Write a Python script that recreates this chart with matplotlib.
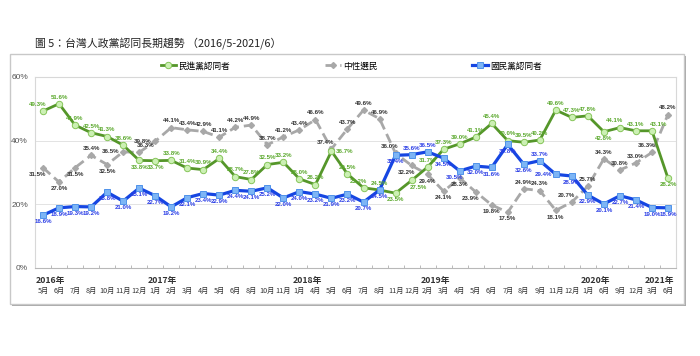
import numpy as np
import matplotlib.pyplot as plt
from matplotlib.patches import Rectangle
from matplotlib.transforms import blended_transform_factory

plt.rcParams['font.family'] = ['Noto Sans CJK TC', 'DejaVu Sans']

# Datos (2016/5 - 2021/6)
meses = ['5月', '6月', '7月', '8月', '10月', '11月', '12月',
         '1月', '2月', '3月', '4月', '5月', '6月', '8月', '10月', '11月',
         '1月', '4月', '5月', '6月', '7月', '8月', '11月', '12月',
         '2月', '3月', '4月', '5月', '6月', '7月', '8月', '9月', '11月', '12月',
         '1月', '6月', '9月', '12月',
         '3月', '6月']
anios = ['2016年', '2017年', '2018年', '2019年', '2020年', '2021年']
inicioAnio = [0, 7, 16, 24, 34, 38]

dpp = [49.3, 51.6, 44.9, 42.5, 41.3, 38.6, 33.8, 33.7, 33.8, 31.4, 30.9, 34.4, 28.7,
       27.8, 32.5, 33.2, 28.0, 26.2, 36.7, 29.5, 25.2, 24.5, 23.5, 27.5, 31.7, 37.3,
       39.0, 41.1, 45.4, 40.0, 39.5, 40.2, 49.6, 47.3, 47.8, 42.8, 44.1, 43.1, 43.1, 28.2]
neutral = [31.5, 27.0, 31.5, 35.4, 32.5, 36.5, 36.3, 39.8, 44.1, 43.4, 42.9, 41.1, 44.2,
           44.9, 38.7, 41.2, 43.4, 46.6, 37.4, 43.7, 49.6, 46.9, 36.0, 32.2, 29.4, 24.1,
           28.3, 23.9, 19.8, 17.5, 24.9, 24.3, 18.1, 20.7, 25.7, 34.3, 30.8, 33.0, 36.3, 48.2]
kmt = [16.6, 18.9, 19.3, 19.2, 23.8, 21.0, 25.1, 22.7, 19.2, 22.1, 23.4, 22.9, 24.4,
       24.1, 25.2, 22.0, 24.0, 23.2, 21.9, 23.2, 20.7, 24.5, 35.4, 35.6, 36.5, 34.5,
       30.5, 32.0, 31.6, 38.8, 32.6, 33.7, 29.4, 28.9, 22.9, 20.1, 22.7, 21.4, 19.0, 18.9]

# Posición de las etiquetas (a=arriba, b=abajo, l/r=izq/der)
posDpp = ['al', 'a', 'a', 'a', 'a', 'a', 'b', 'b', 'a', 'a', 'a', 'a', 'a', 'a', 'a', 'a',
          'a', 'a', 'r', 'a', 'al', 'a', 'b', 'br', 'a', 'a', 'a', 'a', 'a', 'a', 'a', 'a',
          'a', 'a', 'a', 'b', 'al', 'a', 'ar', 'b']
posNeutral = ['bl', 'b', 'b', 'a', 'b', 'l', 'ar', 'l', 'a', 'a', 'a', 'a', 'a', 'a', 'a', 'a',
              'a', 'a', 'al', 'a', 'a', 'a', 'al', 'bl', 'b', 'b', 'b', 'bl', 'b', 'b', 'a', 'a',
              'b', 'al', 'a', 'a', 'a', 'a', 'al', 'a']
posKmt = ['b'] * 40
posKmt[23] = 'a'
posKmt[24] = 'a'
posKmt[31] = 'a'
posKmt[26] = 'bl'
posKmt[32] = 'l'

offsets = {'a': (0, 3, 'center', 'bottom'), 'b': (0, -3, 'center', 'top'),
           'al': (-4, 3, 'center', 'bottom'), 'ar': (5, 3, 'center', 'bottom'),
           'bl': (-4, -3, 'center', 'top'), 'br': (5, -3, 'center', 'top'),
           'l': (-3, 0, 'right', 'center'), 'r': (3, 0, 'left', 'center')}

x = np.arange(len(meses))

fig = plt.figure(figsize=(7, 3.56), dpi=100)

# Marco exterior con sombra
fig.add_artist(Rectangle((12 / 700, 1 - 306 / 356), 674 / 700, 250 / 356, transform=fig.transFigure,
                         facecolor='#a8a8a8', edgecolor='none', zorder=-3))
fig.add_artist(Rectangle((10 / 700, 1 - 304 / 356), 674 / 700, 250 / 356, transform=fig.transFigure,
                         facecolor='white', edgecolor='#c8c8c8', lw=1, zorder=-2))

ax = fig.add_axes([35 / 700, 1 - 268 / 356, 641 / 700, 191 / 356])
ax.set_facecolor('none')

verde = '#55962a'
azul = '#1646e2'
gris = '#a8a8a8'

lDpp, = ax.plot(x, dpp, color=verde, lw=2.0, marker='o', ms=4.6, mfc='#ccf0b4', mec='#86c55a', mew=0.7, zorder=4)
lNeu, = ax.plot(x, neutral, color=gris, lw=2.0, ls=(0, (3.5, 1.8)), marker='D', ms=3, mfc=gris, mec=gris, zorder=3)
lKmt, = ax.plot(x, kmt, color=azul, lw=2.3, marker='s', ms=4.2, mfc='#7db5f5', mec='#4f92ea', mew=0.7, zorder=5)

def etiquetar(valores, posiciones, color):
    for i, (v, p) in enumerate(zip(valores, posiciones)):
        dx, dy, ha, va = offsets[p]
        ax.annotate('{:.1f}%'.format(v), (i, v), xytext=(dx, dy), textcoords='offset points',
                    ha=ha, va=va, fontsize=4.4, fontweight='bold', color=color,
                    family='Liberation Sans', zorder=6)

etiquetar(dpp, posDpp, '#5aa82c')
etiquetar(neutral, posNeutral, '#333333')
etiquetar(kmt, posKmt, '#2a3de6')

ax.set_xlim(-0.5, len(meses) - 0.5)
ax.set_ylim(0, 60)
ax.set_yticks([0, 20, 40, 60])
ax.set_yticklabels(['0%', '20%', '40%', '60%'], family='Liberation Sans', fontsize=6, color='#555555')
ax.tick_params(axis='y', length=0, pad=5)
ax.set_xticks([])
ax.set_xticks(np.arange(-0.5, len(meses)), minor=True)
ax.tick_params(axis='x', which='minor', direction='in', length=2, color='#b0b0b0', labelbottom=False)
for y in [20, 40]:
    ax.axhline(y, color='#e3e3e3', lw=0.7, zorder=0)
for s in ['top', 'right', 'left']:
    ax.spines[s].set_color('#d8d8d8')
    ax.spines[s].set_linewidth(0.8)
ax.spines['bottom'].set_color('#b8b8b8')
ax.spines['bottom'].set_linewidth(0.8)

trans = blended_transform_factory(ax.transData, ax.transAxes)
for i, m in enumerate(meses):
    ax.text(i, -0.12, m, transform=trans, ha='center', va='center', fontsize=5.2, color='#333333')
for a, i in zip(anios, inicioAnio):
    ax.text(i - 0.45, -0.063, a, transform=trans, ha='left', va='center', fontsize=6.3,
            fontweight='bold', color='#333333')

fig.text(35 / 700, 1 - 43 / 356, '圖 5：台灣人政黨認同長期趨勢 （2016/5-2021/6）', ha='left', va='center',
         fontsize=7.8, color='#222222')

fig.legend([lDpp, lNeu, lKmt], ['民進黨認同者', '中性選民', '國民黨認同者'], loc='center',
           bbox_to_anchor=(0.502, 1 - 66 / 356), ncol=3, frameon=False, fontsize=6.2,
           columnspacing=11, handlelength=1.8, handletextpad=0.3, borderpad=0)

plt.savefig('out.png', dpi=100)
